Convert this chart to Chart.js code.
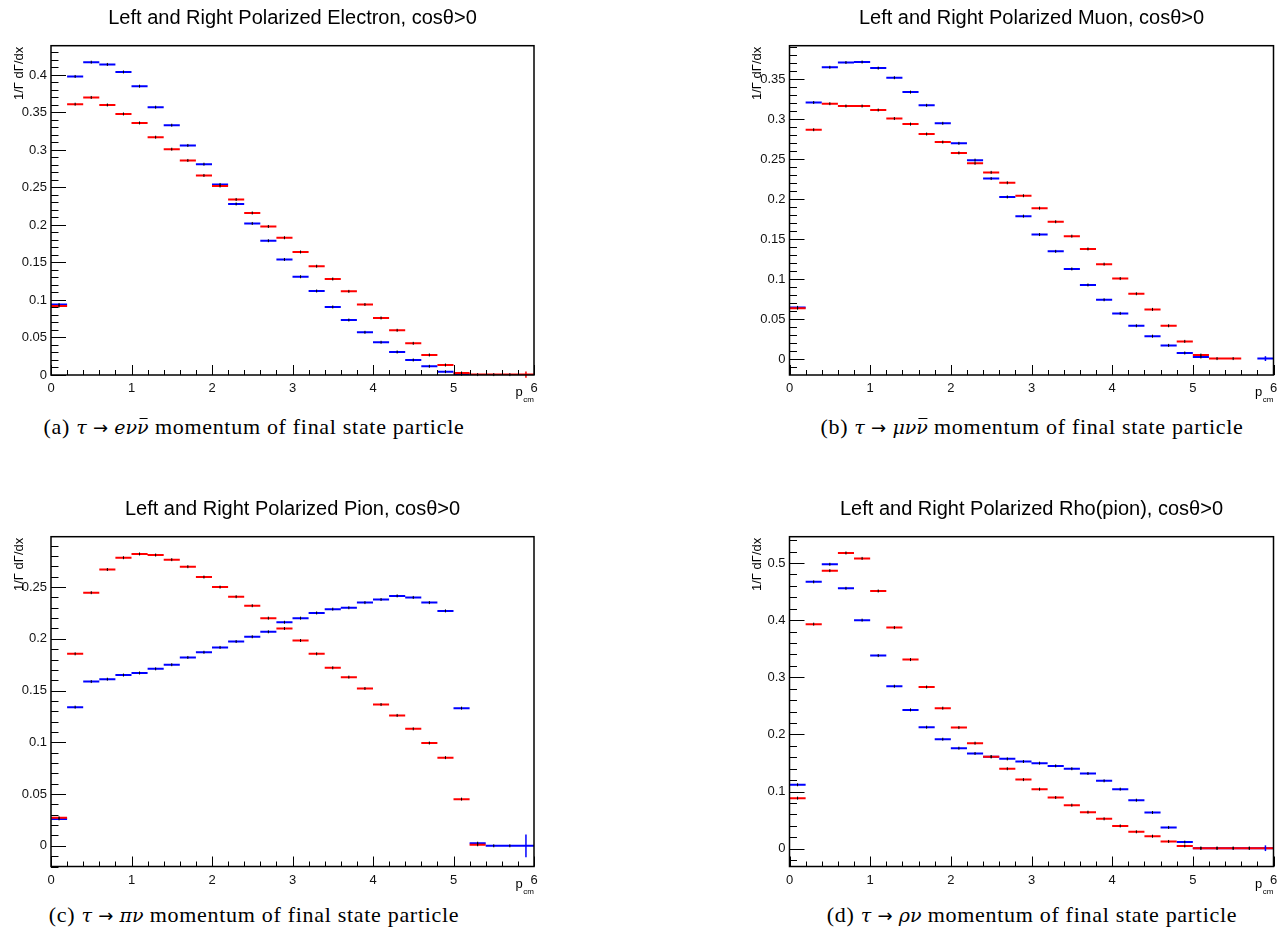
<!DOCTYPE html>
<html>
<head>
<meta charset="utf-8">
<title>tau decay momentum spectra</title>
<script src="https://cdn.jsdelivr.net/npm/chart.js@4.4.0/dist/chart.umd.min.js"></script>
<style>
  body { margin: 0; background: #fff; width: 1284px; height: 951px; position: relative; overflow: hidden; }
  canvas { position: absolute; }
  .caption {
    position: absolute;
    font-family: "Liberation Serif", "DejaVu Serif", serif;
    font-size: 22px;
    letter-spacing: 0.7px;
    color: #000;
    white-space: nowrap;
    transform: translate(-50%, -50%);
  }
  .caption i { font-family: "DejaVu Serif", serif; font-size: 19px; letter-spacing: 0; }
  .caption .arr { font-family: "DejaVu Sans", sans-serif; font-size: 18px; letter-spacing: 0; }
  /* nu-bar: short rule just above the x-height */
  .bar { position: relative; display: inline-block; }
  .bar::after {
    content: '';
    position: absolute;
    left: 22%;
    right: 8%;
    top: 0.12em;
    border-top: 1.2px solid #000;
  }
</style>
</head>
<body>
<canvas id="chartA" width="600" height="405" style="left:0;top:0"></canvas>
<canvas id="chartB" width="544" height="405" style="left:740px;top:0"></canvas>
<canvas id="chartC" width="600" height="405" style="left:0;top:490px"></canvas>
<canvas id="chartD" width="544" height="405" style="left:740px;top:490px"></canvas>

<div class="caption" style="left:254px;top:427px">(a) <i>τ</i> <span class="arr">→</span> <i>eν<span class="bar">ν</span></i> momentum of final state particle</div>
<div class="caption" style="left:1032px;top:427px">(b) <i>τ</i> <span class="arr">→</span> <i>μν<span class="bar">ν</span></i> momentum of final state particle</div>
<div class="caption" style="left:254px;top:915px">(c) <i>τ</i> <span class="arr">→</span> <i>πν</i> momentum of final state particle</div>
<div class="caption" style="left:1032px;top:915px">(d) <i>τ</i> <span class="arr">→</span> <i>ρν</i> momentum of final state particle</div>

<script>
// histogram bins: 30 bins of 0.2 from 0 to 6 (p_cm)
const binLow = [0.0, 0.2, 0.4, 0.6, 0.8, 1.0, 1.2, 1.4, 1.6, 1.8,
                2.0, 2.2, 2.4, 2.6, 2.8, 3.0, 3.2, 3.4, 3.6, 3.8,
                4.0, 4.2, 4.4, 4.6, 4.8, 5.0, 5.2, 5.4, 5.6, 5.8];
const binWidth = 0.2;
const xTicks = [0, 1, 2, 3, 4, 5, 6];

// electron
const redA = [0.092, 0.361, 0.370, 0.360, 0.348, 0.336, 0.317, 0.301, 0.286, 0.266,
              0.252, 0.234, 0.216, 0.198, 0.183, 0.164, 0.145, 0.128, 0.1115, 0.094,
              0.076, 0.0596, 0.0422, 0.0267, 0.0133, 0.0027, 0.0005, 0.0005, 0.0005, 0.0005];
const blueA = [0.094, 0.398, 0.417, 0.414, 0.404, 0.385, 0.357, 0.333, 0.306, 0.281,
               0.254, 0.228, 0.202, 0.179, 0.154, 0.131, 0.112, 0.0907, 0.0733, 0.0569,
               0.0436, 0.0307, 0.020, 0.0116, 0.0044, 0.001, null, null, null, null];
const yTicksA = [0, 0.05, 0.1, 0.15, 0.2, 0.25, 0.3, 0.35, 0.4];

// muon
const redB = [0.064, 0.287, 0.3195, 0.3166, 0.3166, 0.3116, 0.301, 0.294, 0.2816, 0.2716,
              0.258, 0.245, 0.2337, 0.2207, 0.2045, 0.189, 0.172, 0.154, 0.138, 0.119,
              0.101, 0.082, 0.0625, 0.042, 0.0225, 0.0054, 0.001, 0.001, null, null];
const blueB = [0.065, 0.321, 0.365, 0.371, 0.3716, 0.364, 0.352, 0.334, 0.3175, 0.295,
               0.270, 0.249, 0.226, 0.203, 0.179, 0.156, 0.135, 0.113, 0.093, 0.0745,
               0.0575, 0.042, 0.029, 0.0175, 0.008, 0.003, null, null, null, 0.001];
const yTicksB = [0, 0.05, 0.1, 0.15, 0.2, 0.25, 0.3, 0.35];

// pion
const redC = [0.027, 0.1855, 0.2446, 0.267, 0.2784, 0.282, 0.281, 0.2765, 0.2697, 0.2597,
              0.250, 0.2407, 0.232, 0.220, 0.210, 0.1984, 0.1855, 0.172, 0.163, 0.152,
              0.1365, 0.126, 0.113, 0.0993, 0.0852, 0.0451, 0.001, null, null, null];
const blueC = [0.026, 0.134, 0.1587, 0.161, 0.165, 0.167, 0.171, 0.175, 0.182, 0.187,
               0.1917, 0.1974, 0.202, 0.2068, 0.216, 0.220, 0.225, 0.2287, 0.230, 0.235,
               0.238, 0.2415, 0.240, 0.235, 0.227, 0.133, 0.0025, 0.0, 0.0, 0.0];
const yTicksC = [0, 0.05, 0.1, 0.15, 0.2, 0.25];

// rho -> pion
const redD = [0.0886, 0.393, 0.4866, 0.5175, 0.508, 0.451, 0.387, 0.331, 0.283, 0.246,
              0.212, 0.1847, 0.161, 0.140, 0.121, 0.1043, 0.0897, 0.0763, 0.064, 0.0524,
              0.040, 0.0297, 0.022, 0.0128, 0.005, 0.001, 0.001, 0.001, 0.001, 0.001];
const blueD = [0.112, 0.467, 0.4977, 0.4557, 0.400, 0.338, 0.2844, 0.243, 0.2127, 0.1917,
               0.176, 0.1667, 0.161, 0.1573, 0.1527, 0.1498, 0.145, 0.140, 0.1317, 0.1189,
               0.1043, 0.085, 0.0635, 0.0373, 0.0117, 0.001, 0.001, 0.001, 0.001, 0.001];
const yTicksD = [0, 0.1, 0.2, 0.3, 0.4, 0.5];

// statistical error on the last bin (the only ones big enough to see)
const lastErrRedA = 0.004;
const lastErrBlueB = 0.003;
const lastErrBlueC = 0.011;
const lastErrBlueD = 0.005;

const RED = '#ff0000';
const BLUE = '#0000ff';
const FONT = '"Liberation Sans", Arial, Helvetica, sans-serif';

// each bin becomes a flat segment; a null point breaks the line between bins
function toSteps(values) {
  const pts = [];
  values.forEach((v, i) => {
    if (v === null) return;
    pts.push({ x: binLow[i], y: v });
    pts.push({ x: binLow[i] + binWidth, y: v });
    pts.push({ x: binLow[i] + binWidth, y: null });
  });
  return pts;
}

// ROOT style frame: box, inward ticks, title, axis titles, error ticks
const rootFrame = {
  id: 'rootFrame',
  afterDatasetsDraw(chart, args, opts) {
    const { ctx, chartArea: a, scales: { x, y } } = chart;
    ctx.save();

    // error bars at bin centres
    chart.data.datasets.forEach(ds => {
      ds.values.forEach((v, i) => {
        if (v === null) return;
        const cx = x.getPixelForValue(binLow[i] + binWidth / 2);
        const cy = y.getPixelForValue(v);
        const last = i === ds.values.length - 1 && ds.lastErr;
        ctx.beginPath();
        if (last) {
          ctx.strokeStyle = ds.borderColor;
          ctx.lineWidth = 1.5;
          ctx.moveTo(cx, y.getPixelForValue(v + ds.lastErr));
          ctx.lineTo(cx, y.getPixelForValue(v - ds.lastErr));
        } else {
          ctx.strokeStyle = '#000';
          ctx.lineWidth = 1;
          ctx.moveTo(cx, cy - 1.5);
          ctx.lineTo(cx, cy + 1.5);
        }
        ctx.stroke();
      });
    });

    // y ticks (inside the frame)
    ctx.strokeStyle = '#000';
    ctx.lineWidth = 1;
    const k0 = Math.ceil(y.min / opts.yMinor - 1e-6);
    const k1 = Math.floor(y.max / opts.yMinor + 1e-6);
    for (let k = k0; k <= k1; k++) {
      const v = k * opts.yMinor;
      const major = Math.abs(v / opts.yMajor - Math.round(v / opts.yMajor)) < 1e-6;
      const py = Math.round(y.getPixelForValue(v)) + 0.5;
      ctx.beginPath();
      ctx.moveTo(a.left, py);
      ctx.lineTo(a.left + (major ? 15 : 7.5), py);
      ctx.stroke();
    }
    // x ticks
    for (let k = 0; k <= 30; k++) {
      const v = k * 0.2;
      const major = k % 5 === 0;
      const px = Math.round(x.getPixelForValue(v)) + 0.5;
      ctx.beginPath();
      ctx.moveTo(px, a.bottom);
      ctx.lineTo(px, a.bottom - (major ? 10 : 5));
      ctx.stroke();
    }

    // frame
    ctx.lineWidth = 1.5;
    ctx.strokeStyle = '#000';
    ctx.strokeRect(a.left, a.top, a.right - a.left, a.bottom - a.top);

    // title
    ctx.fillStyle = '#000';
    ctx.font = '20px ' + FONT;
    ctx.textAlign = 'center';
    ctx.textBaseline = 'alphabetic';
    ctx.fillText(opts.title, (a.left + a.right) / 2, a.top - 21.5);

    // y axis title, rotated, flush with the top of the frame
    ctx.save();
    ctx.translate(a.left - 32, a.top + 1);
    ctx.rotate(-Math.PI / 2);
    ctx.font = '13px ' + FONT;
    ctx.textAlign = 'right';
    ctx.textBaseline = 'middle';
    ctx.fillText('1/\u0393 d\u0393/dx', 0, 0);
    ctx.restore();

    // x axis title p_cm
    ctx.textAlign = 'right';
    ctx.font = '8px ' + FONT;
    ctx.fillText('cm', a.right, a.bottom + 27);
    const cmW = ctx.measureText('cm').width;
    ctx.font = '13px ' + FONT;
    ctx.fillText('p', a.right - cmW - 0.5, a.bottom + 21);

    ctx.restore();
  }
};

function makePanel(id, cfg) {
  const datasets = cfg.series.map(s => ({
    data: toSteps(s.values),
    values: s.values,
    lastErr: s.lastErr || 0,
    borderColor: s.color,
    borderWidth: 2,
    pointRadius: 0,
    spanGaps: false,
    tension: 0
  }));

  new Chart(document.getElementById(id), {
    type: 'line',
    data: { datasets },
    options: {
      responsive: false,
      animation: false,
      events: [],
      layout: { padding: cfg.padding },
      scales: {
        x: {
          type: 'linear',
          min: 0,
          max: 6,
          afterBuildTicks: s => { s.ticks = xTicks.map(v => ({ value: v })); },
          afterFit: s => { s.height = 22; },
          grid: { display: false, drawTicks: false },
          border: { display: false },
          ticks: { font: { family: FONT, size: 13 }, color: '#111', padding: 6, maxRotation: 0, autoSkip: false }
        },
        y: {
          type: 'linear',
          min: cfg.yMin,
          max: cfg.yMax,
          afterBuildTicks: s => { s.ticks = cfg.yTicks.map(v => ({ value: v })); },
          afterFit: s => { s.width = cfg.yAxisWidth; },
          grid: { display: false, drawTicks: false },
          border: { display: false },
          ticks: {
            font: { family: FONT, size: 13 },
            color: '#111',
            padding: 4,
            autoSkip: false,
            callback: v => String(+v.toFixed(2))
          }
        }
      },
      plugins: {
        legend: { display: false },
        tooltip: { enabled: false },
        rootFrame: { title: cfg.title, yMajor: cfg.yMajor, yMinor: cfg.yMinor }
      }
    },
    plugins: [rootFrame]
  });
}

makePanel('chartA', {
  title: 'Left and Right Polarized Electron, cos\u03b8>0',
  series: [{ values: redA, color: RED, lastErr: lastErrRedA }, { values: blueA, color: BLUE }],
  yMin: 0, yMax: 0.439, yTicks: yTicksA, yMajor: 0.05, yMinor: 0.01,
  yAxisWidth: 51,
  padding: { left: 0, right: 66, top: 45.7, bottom: 8 }
});

makePanel('chartB', {
  title: 'Left and Right Polarized Muon, cos\u03b8>0',
  series: [{ values: redB, color: RED }, { values: blueB, color: BLUE, lastErr: lastErrBlueB }],
  yMin: -0.0195, yMax: 0.392, yTicks: yTicksB, yMajor: 0.05, yMinor: 0.01,
  yAxisWidth: 49.5,
  padding: { left: 0, right: 10.5, top: 45.7, bottom: 8 }
});

makePanel('chartC', {
  title: 'Left and Right Polarized Pion, cos\u03b8>0',
  series: [{ values: redC, color: RED }, { values: blueC, color: BLUE, lastErr: lastErrBlueC }],
  yMin: -0.020, yMax: 0.2987, yTicks: yTicksC, yMajor: 0.05, yMinor: 0.01,
  yAxisWidth: 51,
  padding: { left: 0, right: 66, top: 46.7, bottom: 6.5 }
});

makePanel('chartD', {
  title: 'Left and Right Polarized Rho(pion), cos\u03b8>0',
  series: [{ values: redD, color: RED }, { values: blueD, color: BLUE, lastErr: lastErrBlueD }],
  yMin: -0.031, yMax: 0.546, yTicks: yTicksD, yMajor: 0.1, yMinor: 0.02,
  yAxisWidth: 49.5,
  padding: { left: 0, right: 10.5, top: 46.7, bottom: 6.5 }
});
</script>
</body>
</html>
